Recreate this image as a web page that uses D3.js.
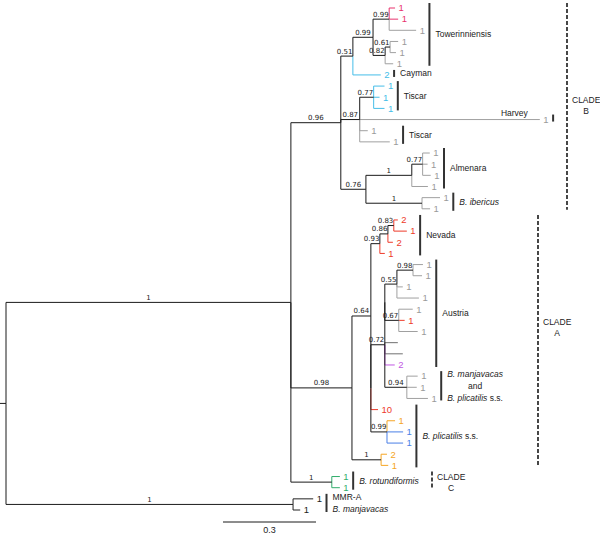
<!DOCTYPE html>
<meta charset="utf-8">
<body style="margin:0;background:#fff">
<svg id="tree" width="600" height="536"></svg>
<script src="https://d3js.org/d3.v7.min.js"></script>
<script>
// internal nodes: id, parent, branch length (subst./site), posterior support
// (zero-length nodes with no support are unresolved groupings as drawn)
const nodes = [
  ["root", "", 0, ""],
  ["ingroup", "root", 0.919, "1"],
  ["cladeB", "ingroup", 0.161, "0.96"],
  ["n51", "cladeB", 0.039, "0.51"],
  ["n99a", "n51", 0.065, "0.99"],
  ["n99b", "n99a", 0.052, "0.99"],
  ["n82", "n99a", 0.039, "0.82"],
  ["n61", "n82", 0.016, "0.61"],
  ["n87", "cladeB", 0.061, "0.87"],
  ["n77t", "n87", 0.045, "0.77"],
  ["n76", "cladeB", 0.081, "0.76"],
  ["alm", "n76", 0.148, "1"],
  ["n77a", "alm", 0.035, "0.77"],
  ["ibe", "n76", 0.181, "1"],
  ["n98", "ingroup", 0.197, "0.98"],
  ["n64", "n98", 0.061, "0.64"],
  ["n93", "n64", 0.029, "0.93"],
  ["n86", "n93", 0.026, "0.86"],
  ["n83", "n86", 0.019, "0.83"],
  ["n64x", "n64", 0, ""],
  ["n72", "n64x", 0.045, "0.72"],
  ["n72x", "n72", 0, ""],
  ["n55", "n72x", 0.039, "0.55"],
  ["n98a", "n55", 0.052, "0.98"],
  ["n67", "n72x", 0.045, "0.67"],
  ["n94", "n72", 0.071, "0.94"],
  ["n99p", "n64x", 0.052, "0.99"],
  ["plic", "n98", 0.094, "1"],
  ["rot", "ingroup", 0.132, "1"],
  ["mmr", "root", 0.926, "1"]
];

// tips, top to bottom: id, parent, branch length, haplotype count, colour group
const tips = [
  ["t1", "n99b", 0.019, "1", "pink"],
  ["t2", "n99b", 0.029, "1", "pink"],
  ["t3", "n99b", 0.087, "1", "grey"],
  ["t4", "n61", 0.026, "1", "grey"],
  ["t5", "n61", 0.019, "1", "grey"],
  ["t6", "n82", 0.026, "1", "grey"],
  ["t7", "n51", 0.090, "2", "cyan"],
  ["t8", "n77t", 0.035, "1", "cyan"],
  ["t9", "n77t", 0.019, "1", "cyan"],
  ["t10", "n77t", 0.035, "1", "cyan"],
  ["t11", "n87", 0.581, "1", "grey"],
  ["t12", "n87", 0.026, "1", "grey"],
  ["t13", "n87", 0.097, "1", "grey"],
  ["t14", "n77a", 0.023, "1", "grey"],
  ["t15", "n77a", 0.016, "1", "grey"],
  ["t16", "n77a", 0.026, "1", "grey"],
  ["t17", "alm", 0.052, "1", "grey"],
  ["t18", "ibe", 0.058, "1", "grey"],
  ["t19", "ibe", 0.026, "1", "grey"],
  ["t20", "n83", 0.013, "2", "red"],
  ["t21", "n83", 0.042, "1", "red"],
  ["t22", "n86", 0.016, "2", "red"],
  ["t23", "n93", 0.016, "1", "red"],
  ["t24", "n98a", 0.032, "1", "grey"],
  ["t25", "n98a", 0.029, "1", "grey"],
  ["t26", "n55", 0.019, "1", "grey"],
  ["t27", "n55", 0.071, "1", "grey"],
  ["t28", "n67", 0.045, "1", "grey"],
  ["t29", "n67", 0.019, "1", "red"],
  ["t30", "n67", 0.061, "1", "grey"],
  ["t31", "n72", 0.042, "", "dark"],
  ["t32", "n72", 0.058, "", "dark"],
  ["t33", "n72", 0.032, "2", "purple"],
  ["t34", "n94", 0.035, "1", "grey"],
  ["t35", "n94", 0.032, "1", "grey"],
  ["t36", "n94", 0.068, "1", "grey"],
  ["t37", "n64x", 0.023, "10", "red"],
  ["t38", "n99p", 0.026, "1", "orange"],
  ["t39", "n99p", 0.052, "1", "blue"],
  ["t40", "n99p", 0.052, "1", "blue"],
  ["t41", "plic", 0.019, "2", "orange"],
  ["t42", "plic", 0.023, "1", "orange"],
  ["t43", "rot", 0.026, "1", "green"],
  ["t44", "rot", 0.026, "1", "green"],
  ["t45", "mmr", 0.065, "1", "black"],
  ["t46", "mmr", 0.023, "1", "black"]
];

// clade labels: text (| = new line), first tip, last tip
const clades = [
  ["Towerinniensis", "t1", "t6"],
  ["Cayman", "t7", "t7"],
  ["Tiscar", "t8", "t10"],
  ["Harvey", "t11", "t11"],
  ["Tiscar", "t12", "t13"],
  ["Almenara", "t14", "t17"],
  ["B. ibericus", "t18", "t19"],
  ["Nevada", "t20", "t23"],
  ["Austria", "t24", "t33"],
  ["B. manjavacas|and|B. plicatilis s.s.", "t34", "t36"],
  ["B. plicatilis s.s.", "t37", "t42"],
  ["B. rotundiformis", "t43", "t44"],
  ["MMR-A|B. manjavacas", "t45", "t46"]
];

// major clades: name, first tip, last tip
const majorClades = [
  ["CLADE|B", "t1", "t19"],
  ["CLADE|A", "t20", "t42"],
  ["CLADE|C", "t43", "t44"]
];

const scaleBarValue = 0.3;

const colors = {
  grey: "#a0a0a0", dark: "#707070", black: "#222", pink: "#e8336d", cyan: "#45bde8",
  red: "#ee3a2a", purple: "#c158e3", orange: "#f5a524", blue: "#4a7fe6", green: "#31ad6c"
};
const majorLayout = { "CLADE|B": { x: 567, at: "t9", dy: 3 }, "CLADE|A": { x: 538, at: "t29", dy: 2 }, "CLADE|C": { x: 432, at: "t43", dy: 0 } };

const svg = d3.select("#tree");
const labelFont = "Liberation Sans, Arial, sans-serif";

const rows = nodes.map(r => ({ id: r[0], parent: r[1], len: r[2], support: r[3] }))
  .concat(tips.map((r, i) => ({ id: r[0], parent: r[1], len: r[2], count: r[3], group: r[4], order: i })));

const root = d3.stratify().id(d => d.id).parentId(d => d.parent)(rows);
root.eachAfter(d => { d.ord = d.children ? d3.min(d.children, c => c.ord) : d.data.order; });
root.sort((a, b) => a.ord - b.ord);
root.eachBefore(d => { d.dist = d.parent ? d.parent.dist + d.data.len : 0; });

const leaves = root.leaves();
const y = d3.scalePoint().domain(leaves.map(d => d.id)).range([8, 510]);
const x = d3.scaleLinear().domain([0, 1]).range([6, 316]);
root.eachAfter(d => {
  d.y = d.children ? (d.children[0].y + d.children[d.children.length - 1].y) / 2 : y(d.id);
});
const byId = new Map(root.descendants().map(d => [d.id, d]));

// branches, tips first so that internal ones sit on top
const links = root.descendants().filter(d => d.parent)
  .sort((a, b) => (a.children ? 1 : 0) - (b.children ? 1 : 0));

svg.append("path")
  .attr("d", `M0,${root.y}H${x(0)}`)
  .attr("stroke", "#1a1a1a").attr("fill", "none");

svg.append("g").selectAll("path").data(links).join("path")
  .attr("d", d => `M${x(d.parent.dist)},${d.parent.y}V${d.y}H${x(d.dist)}`)
  .attr("fill", "none")
  .attr("stroke", d => d.children ? "#1a1a1a" : colors[d.data.group])
  .attr("stroke-width", 1);

// support values
const sup = svg.append("g")
  .attr("font-family", "DejaVu Sans, sans-serif").attr("font-size", 7).attr("fill", "#222")
  .attr("text-anchor", "middle");
root.descendants().filter(d => d.children && d.data.support).forEach(d => {
  const t = sup.append("text").text(d.data.support).attr("y", d.y - 2.5);
  const w = t.node().getComputedTextLength();
  const mid = (x(d.parent.dist) + x(d.dist)) / 2;
  t.attr("x", Math.min(mid, x(d.dist) - w / 2 - 0.5));
});

// haplotype counts
const cnt = svg.append("g").attr("font-family", labelFont).attr("font-size", 9.5);
leaves.forEach(d => {
  const t = cnt.append("text").text(d.data.count)
    .attr("x", x(d.dist) + 3.5).attr("y", d.y).attr("dy", "0.35em")
    .attr("fill", d.data.group === "grey" ? "#9a9a9a" : colors[d.data.group]);
  d.labelEnd = x(d.dist) + 3.5 + (d.data.count ? t.node().getComputedTextLength() : 0);
});

function writeLine(text, str) {
  const m = str.match(/^(B\. \S+)(.*)$/);
  if (m) {
    text.append("tspan").attr("font-style", "italic").text(m[1]);
    if (m[2]) text.append("tspan").text(m[2]);
  } else text.text(str);
}

// clade bars and names
const cl = svg.append("g").attr("font-family", labelFont).attr("font-size", 8.5).attr("fill", "#222");
clades.forEach(([name, a, b]) => {
  const i0 = leaves.indexOf(byId.get(a)), i1 = leaves.indexOf(byId.get(b));
  const members = leaves.slice(i0, i1 + 1);
  const bx = d3.max(members, d => d.labelEnd) + 4.5;
  const y0 = y(a) - 5, y1 = y(b) + 2;
  cl.append("line").attr("x1", bx).attr("x2", bx).attr("y1", y0).attr("y2", y1)
    .attr("stroke", "#333").attr("stroke-width", 2);
  if (name === "Harvey") {
    cl.append("text").attr("x", x(byId.get(a).dist) - 12).attr("y", y(a) - 4)
      .attr("text-anchor", "end").text(name);
    return;
  }
  const lines = name.split("|");
  const g = cl.append("g");
  const texts = lines.map((s, k) => {
    const t = g.append("text").attr("y", (y0 + y1) / 2 + (k - (lines.length - 1) / 2) * 12).attr("dy", "0.35em");
    writeLine(t, s);
    return t;
  });
  const widths = texts.map(t => t.node().getComputedTextLength());
  const maxW = d3.max(widths);
  texts.forEach((t, k) => t.attr("x", lines.length > 2 ? bx + 6 + (maxW - widths[k]) / 2 : bx + 6));
});

// major clades
majorClades.forEach(([name, a, b]) => {
  const L = majorLayout[name];
  svg.append("line").attr("x1", L.x).attr("x2", L.x).attr("y1", y(a) - 5).attr("y2", y(b) + 1)
    .attr("stroke", "#333").attr("stroke-width", 1.8).attr("stroke-dasharray", "4,2");
  const parts = name.split("|");
  const t0 = svg.append("text").attr("font-family", labelFont).attr("font-size", 8.5).attr("fill", "#222")
    .attr("x", L.x + 5).attr("y", y(L.at) + L.dy).attr("dy", "0.35em").text(parts[0]);
  const w = t0.node().getComputedTextLength();
  svg.append("text").attr("font-family", labelFont).attr("font-size", 8.5).attr("fill", "#222")
    .attr("text-anchor", "middle").attr("x", L.x + 5 + w / 2).attr("y", y(L.at) + L.dy + 11)
    .attr("dy", "0.35em").text(parts[1]);
});

// scale bar
const sbLen = x(scaleBarValue) - x(0);
const sbX = 223, sbY = 522;
svg.append("line").attr("x1", sbX).attr("x2", sbX + sbLen).attr("y1", sbY).attr("y2", sbY)
  .attr("stroke", "#1a1a1a");
svg.append("text").attr("x", sbX + sbLen / 2).attr("y", 533)
  .attr("text-anchor", "middle").attr("font-family", labelFont).attr("font-size", 9)
  .attr("fill", "#222").text(scaleBarValue);
</script>
</body>
